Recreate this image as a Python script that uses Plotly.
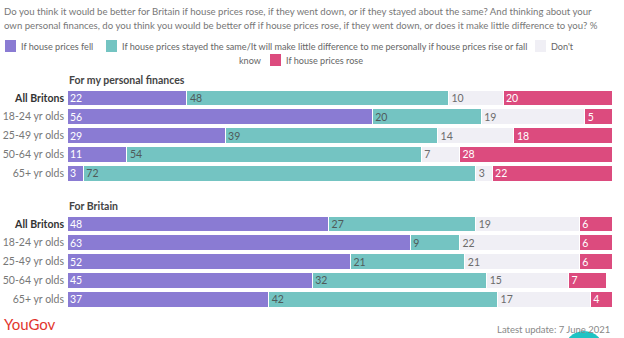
import plotly.graph_objects as go

groups = ["All Britons", "18-24 yr olds", "25-49 yr olds", "50-64 yr olds", "65+ yr olds"]
series = ["If house prices fell",
          "If house prices stayed the same/It will make little difference to me personally if house prices rise or fall",
          "Don't know",
          "If house prices rose"]
colors = ["#8a7bd3", "#74c4c2", "#f0eff5", "#dc4b7e"]
text_colors = ["#ffffff", "#4f5a5a", "#6b6b6b", "#ffffff"]

personal_fell = [22, 56, 29, 11, 3]
personal_same = [48, 20, 39, 54, 72]
personal_dk = [10, 19, 14, 7, 3]
personal_rose = [20, 5, 18, 28, 22]

britain_fell = [48, 63, 52, 45, 37]
britain_same = [27, 9, 21, 32, 42]
britain_dk = [19, 22, 21, 15, 17]
britain_rose = [6, 6, 6, 7, 4]

panel_titles = ["For my personal finances", "For Britain"]
title_lines = ["Do you think it would be better for Britain if house prices rose, if they went down, or if they stayed about the same? And thinking about your",
               "own personal finances, do you think you would be better off if house prices rose, if they went down, or does it make little difference to you? %"]

W, H = 624, 338
FONT = "Lato"

def py(p):
    return 1 - p / H

def px(p):
    return p / W

fig = go.Figure()
panels = [
    ([personal_fell, personal_same, personal_dk, personal_rose], "x", "y"),
    ([britain_fell, britain_same, britain_dk, britain_rose], "x2", "y2"),
]
for vals, xa, ya in panels:
    for i, v in enumerate(vals):
        fig.add_trace(go.Bar(
            y=groups, x=v, orientation="h", name=series[i],
            marker=dict(color=colors[i], line=dict(color="#ffffff", width=1)),
            text=[str(t) for t in v], textposition="inside", insidetextanchor="start",
            textangle=0, constraintext="none",
            textfont=dict(color=text_colors[i], size=10.5, family=FONT),
            xaxis=xa, yaxis=ya, showlegend=False, hoverinfo="skip",
        ))

ticktext = ['<b><span style="color:#333333">%s</span></b>' % groups[0]] + groups[1:]

xdom = [px(67), px(612)]
common_x = dict(range=[0, 100], domain=xdom, showgrid=False, zeroline=False,
                showticklabels=False, fixedrange=True)
common_y = dict(autorange="reversed", showgrid=False, zeroline=False, ticks="",
                tickmode="array", tickvals=groups, ticktext=ticktext,
                tickfont=dict(size=10.5, color="#777777", family=FONT), ticklabelstandoff=2)

fig.update_layout(
    width=W, height=H, margin=dict(l=0, r=0, t=0, b=0),
    paper_bgcolor="white", plot_bgcolor="white",
    barmode="stack", bargap=0.16,
    font=dict(family=FONT, color="#777777"),
    uniformtext=dict(minsize=10.5, mode="show"),
    xaxis=dict(anchor="y", **common_x),
    yaxis=dict(domain=[py(182.5), py(88.5)], anchor="x", **common_y),
    xaxis2=dict(anchor="y2", **common_x),
    yaxis2=dict(domain=[py(308.5), py(214.5)], anchor="x2", **common_y),
)

ann = []
shapes = []
# title
for i, line in enumerate(title_lines):
    ann.append(dict(text=line, x=px(2), y=py([11, 25][i]), xref="paper", yref="paper",
                    xanchor="left", yanchor="middle", showarrow=False,
                    font=dict(size=9.6, color="#777777", family=FONT)))
# legend
leg = [  # swatch x0, y center, series index, text
    (5, 46, 0, series[0]),
    (106, 46, 1, series[1]),
    (535, 46, 2, "Don't"),
    (270, 60, 3, series[3]),
]
for x0, yc, si, txt in leg:
    shapes.append(dict(type="rect", xref="paper", yref="paper",
                       x0=px(x0), x1=px(x0 + 11), y0=py(yc + 6), y1=py(yc - 6),
                       fillcolor=colors[si], line=dict(width=0)))
    ann.append(dict(text=txt, x=px(x0 + 14), y=py(yc), xref="paper", yref="paper",
                    xanchor="left", yanchor="middle", showarrow=False,
                    font=dict(size=9.1, color="#666666", family=FONT)))
ann.append(dict(text="know", x=px(263), y=py(60), xref="paper", yref="paper",
                xanchor="right", yanchor="middle", showarrow=False,
                font=dict(size=9.1, color="#666666", family=FONT)))
# panel titles
for i, t in enumerate(panel_titles):
    ann.append(dict(text="<b>%s</b>" % t, x=px(67), y=py([80, 206][i]), xref="paper", yref="paper",
                    xanchor="left", yanchor="middle", showarrow=False,
                    font=dict(size=10.5, color="#444444", family=FONT)))
# logo and footer
ann.append(dict(text="YouGov", x=px(2), y=py(324), xref="paper", yref="paper",
                xanchor="left", yanchor="middle", showarrow=False,
                font=dict(size=15, color="#e2352d", family=FONT)))
ann.append(dict(text="Latest update: 7 June 2021", x=px(612), y=py(329), xref="paper", yref="paper",
                xanchor="right", yanchor="middle", showarrow=False,
                font=dict(size=9.5, color="#888888", family=FONT)))
shapes.append(dict(type="circle", xref="paper", yref="paper", layer="above",
                   x0=px(564), x1=px(604), y0=py(371), y1=py(331),
                   fillcolor="#1fc3c3", line=dict(width=0)))
fig.update_layout(annotations=ann, shapes=shapes)

fig.write_html("out.html")
